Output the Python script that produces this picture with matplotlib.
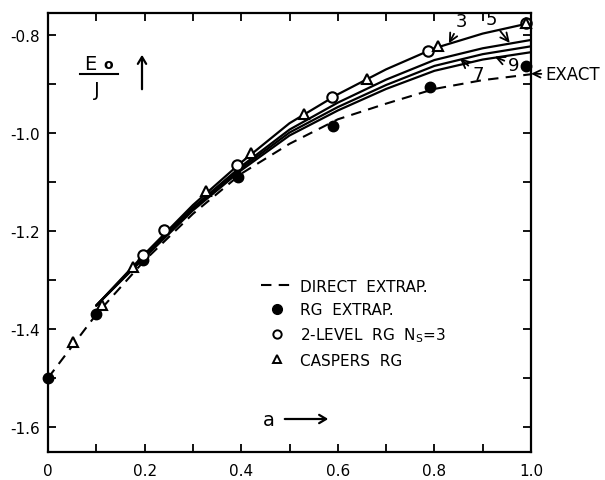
import matplotlib
matplotlib.use("Agg")
import matplotlib.pyplot as plt
from matplotlib.ticker import MultipleLocator

plt.rcParams['font.family'] = ['DejaVu Sans']

# ---- data ----
a_grid = [0.1, 0.2, 0.3, 0.4, 0.5, 0.6, 0.7, 0.8, 0.9, 1.0]
curve_3 = [-1.352, -1.247, -1.147, -1.060, -0.980, -0.921, -0.870, -0.827, -0.797, -0.775]
curve_5 = [-1.352, -1.250, -1.152, -1.068, -0.993, -0.938, -0.891, -0.851, -0.827, -0.810]
curve_7 = [-1.352, -1.252, -1.155, -1.072, -0.999, -0.947, -0.902, -0.863, -0.839, -0.823]
curve_9 = [-1.352, -1.254, -1.158, -1.076, -1.005, -0.954, -0.910, -0.873, -0.850, -0.835]

a_direct = [0.0, 0.1, 0.2, 0.3, 0.4, 0.5, 0.6, 0.7, 0.8, 0.9, 1.0]
e_direct = [-1.500, -1.370, -1.260, -1.165, -1.083, -1.022, -0.972, -0.940, -0.910, -0.892, -0.880]

a_rg = [0.0, 0.1, 0.197, 0.394, 0.59, 0.79, 0.99]
e_rg = [-1.500, -1.370, -1.260, -1.089, -0.986, -0.906, -0.864]

a_2lev = [0.196, 0.241, 0.392, 0.588, 0.786, 0.99]
e_2lev = [-1.249, -1.197, -1.066, -0.927, -0.833, -0.775]

a_casp = [0.052, 0.111, 0.175, 0.328, 0.42, 0.53, 0.66, 0.808, 0.99]
e_casp = [-1.427, -1.351, -1.273, -1.118, -1.040, -0.962, -0.890, -0.822, -0.775]

x_ticks = [0.0, 0.2, 0.4, 0.6, 0.8, 1.0]
x_ticklabels = ['0', '0.2', '0.4', '0.6', '0.8', '1.0']
y_ticks = [-1.6, -1.4, -1.2, -1.0, -0.8]
y_ticklabels = ['-1.6', '-1.4', '-1.2', '-1.0', '-0.8']

fig = plt.figure(figsize=(6.05, 4.81), dpi=100)
ax = fig.add_axes([48/605, 28/481, 483/605, 439/481])

lw = 1.6
for c in (curve_3, curve_5, curve_7, curve_9):
    ax.plot(a_grid, c, color='black', lw=lw, solid_capstyle='round', solid_joinstyle='round')
ld, = ax.plot(a_direct, e_direct, color='black', lw=1.5, ls=(0, (5, 3.5)))
lr, = ax.plot(a_rg, e_rg, 'o', color='black', ms=7.5, ls='none')
l2, = ax.plot(a_2lev, e_2lev, 'o', mfc='white', mec='black', mew=1.5, ms=7.5, ls='none')
lc, = ax.plot(a_casp, e_casp, '^', mfc='white', mec='black', mew=1.5, ms=7.5, ls='none')
for l in (lr, l2, lc):
    l.set_clip_on(False)

ax.set_xlim(0, 1.0)
ax.set_ylim(-1.651, -0.755)
ax.set_xticks(x_ticks)
ax.set_xticklabels(x_ticklabels)
ax.set_yticks(y_ticks)
ax.set_yticklabels(y_ticklabels)
ax.xaxis.set_minor_locator(MultipleLocator(0.1))
ax.yaxis.set_minor_locator(MultipleLocator(0.1))
ax.tick_params(which='both', direction='in', top=True, right=True, length=6, width=1.3,
               labelsize=11)
ax.tick_params(axis='x', pad=8)
ax.tick_params(axis='y', pad=6)
for s in ax.spines.values():
    s.set_linewidth(1.6)

# legend
leg_proxy_r, = ax.plot([], [], 'o', color='black', ms=7)
leg_proxy_2, = ax.plot([], [], 'o', mfc='white', mec='black', mew=1.4, ms=6)
leg_proxy_c, = ax.plot([], [], '^', mfc='white', mec='black', mew=1.4, ms=6)
leg = ax.legend([ld, leg_proxy_r, leg_proxy_2, leg_proxy_c],
                ['DIRECT  EXTRAP.', 'RG  EXTRAP.', r'2-LEVEL  RG  N$_\mathregular{S}$=3', 'CASPERS  RG'],
                loc='upper left', bbox_to_anchor=(0.44, 0.395), frameon=False,
                fontsize=11, handlelength=2.1, handletextpad=0.5, labelspacing=0.55,
                borderpad=0, borderaxespad=0, numpoints=1)

# curve labels
arr = dict(arrowstyle='->,head_length=0.45,head_width=0.22', lw=1.3, color='black',
           shrinkA=1, shrinkB=0)
ax.annotate('3', xy=(0.830, -0.817), xytext=(0.855, -0.771), fontsize=13,
            ha='center', va='center', arrowprops=arr)
ax.annotate('5', xy=(0.956, -0.816), xytext=(0.917, -0.768), fontsize=13,
            ha='center', va='center', arrowprops=arr)
ax.annotate('7', xy=(0.853, -0.848), xytext=(0.890, -0.879), fontsize=13,
            ha='center', va='center', arrowprops=arr)
ax.annotate('9', xy=(0.925, -0.844), xytext=(0.965, -0.861), fontsize=13,
            ha='center', va='center', arrowprops=arr)
ax.annotate('EXACT', xy=(1.0, -0.879), xytext=(1.03, -0.880), fontsize=12,
            ha='left', va='center', arrowprops=arr, annotation_clip=False)

# y-axis label  E_o / J  with arrow
def fx(px):
    return (px - 48) / 483
def fy(py):
    return (453 - py) / 439

ax.text(fx(90), fy(65), 'E', transform=ax.transAxes, fontsize=14, ha='center', va='center')
ax.text(fx(108), fy(65), 'o', transform=ax.transAxes, fontsize=10, ha='center', va='center',
        fontweight='bold')
ax.plot([fx(80), fx(118)], [fy(75), fy(75)], transform=ax.transAxes, color='black', lw=1.5)
ax.text(fx(97), fy(90), 'J', transform=ax.transAxes, fontsize=14, ha='center', va='center')
ax.annotate('', xy=(fx(142), fy(53)), xytext=(fx(142), fy(93)), xycoords='axes fraction',
            arrowprops=dict(arrowstyle='->,head_length=0.5,head_width=0.3', lw=1.6, color='black'))

# x-axis label  a -->
ax.text(fx(269), fy(421), 'a', transform=ax.transAxes, fontsize=14, ha='center', va='center')
ax.annotate('', xy=(fx(331), fy(420)), xytext=(fx(282), fy(420)), xycoords='axes fraction',
            arrowprops=dict(arrowstyle='->,head_length=0.5,head_width=0.3', lw=1.6, color='black'))

fig.savefig('out.png', dpi=100)
